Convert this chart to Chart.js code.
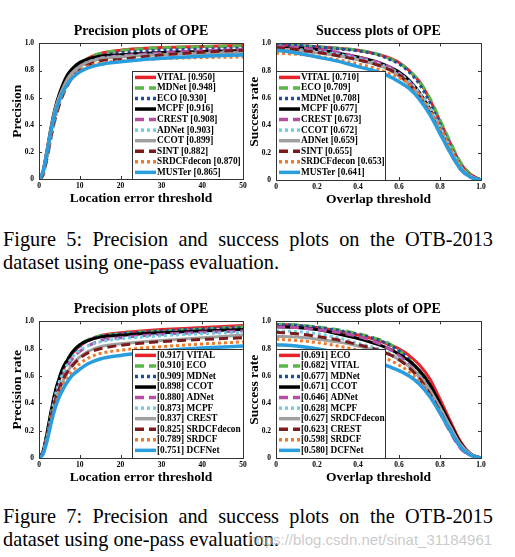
<!DOCTYPE html>
<html>
<head>
<meta charset="utf-8">
<script src="https://cdn.jsdelivr.net/npm/chart.js@4.4.0/dist/chart.umd.min.js"></script>
<style>
body { margin: 0; background: #fff; width: 515px; height: 557px; position: relative; overflow: hidden; }
.plot { position: absolute; }
.cap { position: absolute; left: 3px; width: 490px; font-family: "Liberation Serif", serif; font-size: 20.3px; line-height: 23px; color: #000; }
.cap .l1 { text-align: justify; text-align-last: justify; }
.mark { position: absolute; left: 248px; top: 531px; font-family: "Liberation Sans", sans-serif; font-size: 15px; color: rgba(185,185,185,0.75); white-space: nowrap; }
</style>
</head>
<body>
<div class="plot" style="left:0;top:0"><canvas id="prec13" width="257" height="207"></canvas></div>
<div class="plot" style="left:237px;top:0"><canvas id="succ13" width="258" height="208"></canvas></div>
<div class="cap" style="top:228px"><div class="l1">Figure 5: Precision and success plots on the OTB-2013</div><div>dataset using one-pass evaluation.</div></div>
<div class="plot" style="left:0;top:278px"><canvas id="prec15" width="257" height="208"></canvas></div>
<div class="plot" style="left:237px;top:278px"><canvas id="succ15" width="258" height="208"></canvas></div>
<div class="cap" style="top:505px"><div class="l1">Figure 7: Precision and success plots on the OTB-2015</div><div>dataset using one-pass evaluation.</div></div>
<div class="mark">https://blog.csdn.net/sinat_31184961</div>
<script>
// thresholds
const precX = [0, 1, 2, 3, 4, 5, 6, 7, 8, 10, 12, 15, 20, 25, 30, 40, 50];
const succX = [0, 0.1, 0.2, 0.3, 0.4, 0.5, 0.55, 0.6, 0.65, 0.7, 0.75, 0.8, 0.85, 0.9, 0.95, 1];

// OTB-2013 precision
const prec13Names = ['VITAL', 'MDNet', 'ECO', 'MCPF', 'CREST', 'ADNet', 'CCOT', 'SINT', 'SRDCFdecon', 'MUSTer'];
const prec13Scores = ['0.950', '0.948', '0.930', '0.916', '0.908', '0.903', '0.899', '0.882', '0.870', '0.865'];
const prec13Values = [
    [0, 0.05, 0.20, 0.36, 0.50, 0.60, 0.68, 0.74, 0.79, 0.85, 0.89, 0.925, 0.950, 0.962, 0.970, 0.978, 0.985],
    [0, 0.05, 0.20, 0.36, 0.50, 0.60, 0.68, 0.74, 0.79, 0.85, 0.89, 0.925, 0.948, 0.960, 0.968, 0.976, 0.982],
    [0, 0.05, 0.21, 0.37, 0.50, 0.60, 0.68, 0.74, 0.79, 0.84, 0.88, 0.910, 0.930, 0.942, 0.950, 0.958, 0.965],
    [0, 0.06, 0.22, 0.39, 0.53, 0.63, 0.71, 0.77, 0.81, 0.86, 0.885, 0.905, 0.916, 0.925, 0.932, 0.940, 0.948],
    [0, 0.04, 0.18, 0.34, 0.47, 0.57, 0.65, 0.71, 0.76, 0.82, 0.86, 0.890, 0.908, 0.920, 0.930, 0.945, 0.955],
    [0, 0.03, 0.15, 0.30, 0.44, 0.55, 0.63, 0.70, 0.75, 0.82, 0.86, 0.890, 0.903, 0.912, 0.920, 0.928, 0.935],
    [0, 0.06, 0.22, 0.38, 0.52, 0.61, 0.68, 0.74, 0.78, 0.83, 0.86, 0.885, 0.899, 0.910, 0.917, 0.925, 0.932],
    [0, 0.03, 0.16, 0.32, 0.45, 0.55, 0.63, 0.69, 0.74, 0.80, 0.84, 0.870, 0.882, 0.900, 0.915, 0.935, 0.950],
    [0, 0.04, 0.18, 0.34, 0.47, 0.57, 0.64, 0.70, 0.75, 0.80, 0.83, 0.855, 0.870, 0.880, 0.888, 0.895, 0.900],
    [0, 0.05, 0.20, 0.36, 0.49, 0.58, 0.65, 0.70, 0.74, 0.79, 0.82, 0.845, 0.865, 0.880, 0.890, 0.905, 0.915]
];

// OTB-2013 success
const succ13Names = ['VITAL', 'ECO', 'MDNet', 'MCPF', 'CREST', 'CCOT', 'ADNet', 'SINT', 'SRDCFdecon', 'MUSTer'];
const succ13Scores = ['0.710', '0.709', '0.708', '0.677', '0.673', '0.672', '0.659', '0.655', '0.653', '0.641'];
const succ13Values = [
    [0.99, 0.985, 0.975, 0.965, 0.95, 0.92, 0.895, 0.86, 0.80, 0.72, 0.59, 0.43, 0.27, 0.12, 0.04, 0],
    [0.99, 0.985, 0.975, 0.965, 0.95, 0.92, 0.89, 0.855, 0.80, 0.72, 0.60, 0.44, 0.28, 0.13, 0.04, 0],
    [0.99, 0.985, 0.975, 0.96, 0.945, 0.915, 0.885, 0.85, 0.79, 0.70, 0.57, 0.41, 0.25, 0.11, 0.03, 0],
    [0.97, 0.965, 0.955, 0.93, 0.90, 0.86, 0.83, 0.79, 0.73, 0.64, 0.52, 0.37, 0.22, 0.09, 0.03, 0],
    [0.98, 0.97, 0.955, 0.935, 0.90, 0.86, 0.83, 0.78, 0.72, 0.63, 0.51, 0.37, 0.22, 0.09, 0.03, 0],
    [0.96, 0.955, 0.94, 0.92, 0.89, 0.85, 0.82, 0.78, 0.72, 0.64, 0.53, 0.39, 0.24, 0.10, 0.03, 0],
    [0.96, 0.95, 0.93, 0.91, 0.88, 0.84, 0.81, 0.76, 0.70, 0.61, 0.49, 0.35, 0.21, 0.08, 0.02, 0],
    [0.97, 0.955, 0.935, 0.91, 0.88, 0.84, 0.81, 0.77, 0.70, 0.61, 0.49, 0.35, 0.20, 0.08, 0.02, 0],
    [0.93, 0.92, 0.905, 0.88, 0.85, 0.81, 0.78, 0.75, 0.70, 0.62, 0.51, 0.38, 0.23, 0.10, 0.03, 0],
    [0.95, 0.93, 0.90, 0.87, 0.83, 0.79, 0.76, 0.72, 0.67, 0.59, 0.48, 0.34, 0.20, 0.08, 0.02, 0]
];

// OTB-2015 precision
const prec15Names = ['VITAL', 'ECO', 'MDNet', 'CCOT', 'ADNet', 'MCPF', 'CREST', 'SRDCFdecon', 'SRDCF', 'DCFNet'];
const prec15Scores = ['0.917', '0.910', '0.909', '0.898', '0.880', '0.873', '0.837', '0.825', '0.789', '0.751'];
const prec15Values = [
    [0, 0.04, 0.17, 0.33, 0.47, 0.57, 0.65, 0.71, 0.76, 0.82, 0.86, 0.895, 0.917, 0.930, 0.940, 0.955, 0.970],
    [0, 0.05, 0.19, 0.35, 0.49, 0.59, 0.67, 0.72, 0.77, 0.83, 0.865, 0.895, 0.910, 0.922, 0.930, 0.945, 0.960],
    [0, 0.04, 0.17, 0.33, 0.47, 0.57, 0.65, 0.71, 0.76, 0.82, 0.86, 0.890, 0.909, 0.920, 0.930, 0.945, 0.955],
    [0, 0.05, 0.19, 0.35, 0.49, 0.59, 0.67, 0.72, 0.77, 0.83, 0.86, 0.885, 0.898, 0.910, 0.917, 0.930, 0.940],
    [0, 0.04, 0.16, 0.31, 0.44, 0.54, 0.61, 0.67, 0.72, 0.78, 0.82, 0.860, 0.880, 0.895, 0.905, 0.920, 0.930],
    [0, 0.04, 0.17, 0.32, 0.46, 0.56, 0.63, 0.69, 0.73, 0.79, 0.82, 0.850, 0.873, 0.885, 0.895, 0.910, 0.920],
    [0, 0.03, 0.13, 0.27, 0.40, 0.50, 0.57, 0.63, 0.68, 0.74, 0.78, 0.815, 0.837, 0.850, 0.860, 0.880, 0.900],
    [0, 0.04, 0.16, 0.30, 0.42, 0.51, 0.58, 0.63, 0.67, 0.73, 0.77, 0.800, 0.825, 0.840, 0.852, 0.868, 0.880],
    [0, 0.04, 0.15, 0.28, 0.39, 0.48, 0.54, 0.59, 0.63, 0.69, 0.73, 0.765, 0.789, 0.805, 0.815, 0.835, 0.850],
    [0, 0.03, 0.13, 0.26, 0.37, 0.45, 0.51, 0.56, 0.60, 0.65, 0.69, 0.725, 0.751, 0.770, 0.785, 0.805, 0.820]
];

// OTB-2015 success
const succ15Names = ['ECO', 'VITAL', 'MDNet', 'CCOT', 'ADNet', 'MCPF', 'SRDCFdecon', 'CREST', 'SRDCF', 'DCFNet'];
const succ15Scores = ['0.691', '0.682', '0.677', '0.671', '0.646', '0.628', '0.627', '0.623', '0.598', '0.580'];
const succ15Values = [
    [0.98, 0.97, 0.955, 0.93, 0.90, 0.86, 0.83, 0.80, 0.75, 0.68, 0.58, 0.43, 0.27, 0.12, 0.03, 0],
    [0.98, 0.975, 0.96, 0.94, 0.91, 0.87, 0.84, 0.79, 0.72, 0.63, 0.51, 0.37, 0.22, 0.09, 0.02, 0],
    [0.975, 0.97, 0.955, 0.935, 0.905, 0.865, 0.83, 0.785, 0.72, 0.63, 0.51, 0.37, 0.22, 0.09, 0.02, 0],
    [0.96, 0.955, 0.94, 0.91, 0.875, 0.83, 0.80, 0.76, 0.71, 0.64, 0.54, 0.40, 0.25, 0.11, 0.03, 0],
    [0.96, 0.955, 0.94, 0.92, 0.89, 0.84, 0.80, 0.75, 0.68, 0.59, 0.47, 0.33, 0.19, 0.07, 0.02, 0],
    [0.93, 0.925, 0.91, 0.88, 0.84, 0.80, 0.77, 0.73, 0.67, 0.59, 0.48, 0.34, 0.20, 0.08, 0.02, 0],
    [0.89, 0.885, 0.87, 0.85, 0.82, 0.78, 0.76, 0.72, 0.67, 0.60, 0.50, 0.37, 0.23, 0.10, 0.03, 0],
    [0.92, 0.91, 0.89, 0.865, 0.83, 0.79, 0.76, 0.72, 0.66, 0.58, 0.47, 0.34, 0.20, 0.08, 0.02, 0],
    [0.87, 0.86, 0.845, 0.82, 0.79, 0.75, 0.72, 0.68, 0.63, 0.56, 0.46, 0.33, 0.20, 0.08, 0.02, 0],
    [0.83, 0.82, 0.80, 0.77, 0.74, 0.70, 0.67, 0.64, 0.60, 0.54, 0.45, 0.33, 0.20, 0.08, 0.02, 0]
];

// style per rank
const rankColors = ['#e8232b', '#5cb547', '#1f4e9c', '#000000', '#b44fa5', '#74cbe0', '#a0a0a0', '#7c1b1b', '#f07a2a', '#2a9ddf'];
const rankDash = [[], [9, 5], [3, 3], [], [9, 5], [3, 3], [], [9, 5], [3, 3], []];

const SERIF = '"Liberation Serif", "Times New Roman", serif';
Chart.defaults.color = '#000';

// box round the plot and little inner tick marks
const framePlugin = {
    id: 'frame',
    afterDatasetsDraw(chart) {
        const { ctx, chartArea: a } = chart;
        const sx = chart.scales.x, sy = chart.scales.y;
        ctx.save();
        ctx.strokeStyle = '#333';
        ctx.lineWidth = 1;
        ctx.strokeRect(Math.round(a.left) + 0.5, Math.round(a.top) + 0.5, Math.round(a.right - a.left), Math.round(a.bottom - a.top));
        ctx.beginPath();
        sx.ticks.forEach(t => {
            const px = Math.round(sx.getPixelForValue(t.value)) + 0.5;
            ctx.moveTo(px, a.bottom); ctx.lineTo(px, a.bottom - 3);
            ctx.moveTo(px, a.top); ctx.lineTo(px, a.top + 3);
        });
        sy.ticks.forEach(t => {
            const py = Math.round(sy.getPixelForValue(t.value)) + 0.5;
            ctx.moveTo(a.left, py); ctx.lineTo(a.left + 3, py);
            ctx.moveTo(a.right, py); ctx.lineTo(a.right - 3, py);
        });
        ctx.stroke();
        ctx.restore();
    }
};

// legend box inside the plot, like matlab
const boxLegendPlugin = {
    id: 'boxLegend',
    afterDraw(chart, args, o) {
        const { ctx, chartArea: a } = chart;
        const x0 = o.side === 'right' ? a.right - o.width : a.left;
        const y0 = a.top + o.top;
        ctx.save();
        ctx.fillStyle = '#fff';
        ctx.fillRect(x0, y0, o.width, a.bottom - y0);
        ctx.strokeStyle = '#333';
        ctx.lineWidth = 1;
        ctx.strokeRect(Math.round(x0) + 0.5, Math.round(y0) + 0.5, o.width, Math.round(a.bottom - y0));
        ctx.font = 'bold 9.3px ' + SERIF;
        ctx.textBaseline = 'middle';
        chart.data.datasets.forEach((ds, i) => {
            const y = y0 + 6 + i * o.row;
            ctx.strokeStyle = ds.borderColor;
            ctx.lineWidth = 3.5;
            ctx.setLineDash(ds.borderDash);
            ctx.beginPath();
            ctx.moveTo(x0 + 3, y);
            ctx.lineTo(x0 + 24, y);
            ctx.stroke();
            ctx.setLineDash([]);
            ctx.fillStyle = '#000';
            ctx.fillText(ds.label, x0 + 25, y);
        });
        ctx.restore();
    }
};

const makeChart = (id, xs, values, names, scores, opts) => {
    const datasets = values.map((vals, i) => ({
        label: opts.scoreFirst ? `[${scores[i]}] ${names[i]}` : `${names[i]} [${scores[i]}]`,
        data: vals.map((v, k) => ({ x: xs[k], y: v })),
        borderColor: rankColors[i],
        borderDash: rankDash[i],
        borderWidth: i === 9 ? 3.5 : 3,
        pointRadius: 0,
        cubicInterpolationMode: 'monotone',
        order: 10 - i
    }));

    return new Chart(document.getElementById(id), {
        type: 'line',
        data: { datasets },
        plugins: [framePlugin, boxLegendPlugin],
        options: {
            responsive: false,
            animation: false,
            layout: { padding: { left: 0, right: 14, top: 0, bottom: 0 } },
            scales: {
                x: {
                    type: 'linear', min: 0, max: opts.xMax,
                    grid: { display: false, drawTicks: false }, border: { display: false },
                    ticks: { stepSize: opts.xStep, padding: 3, font: { family: SERIF, size: 7.5, weight: 'bold' }, maxRotation: 0 },
                    title: { display: true, text: opts.xTitle, padding: { top: 0, bottom: 0 }, font: { family: SERIF, size: 13.5, weight: 'bold' } },
                    afterFit: (s) => { s.height = 28; }
                },
                y: {
                    type: 'linear', min: 0, max: 1,
                    grid: { display: false, drawTicks: false }, border: { display: false },
                    ticks: { stepSize: 0.2, padding: 5, font: { family: SERIF, size: 7.5, weight: 'bold' } },
                    title: { display: true, text: opts.yTitle, padding: { top: 9, bottom: 0 }, font: { family: SERIF, size: 13.5, weight: 'bold' } },
                    afterFit: (s) => { s.width = 39; }
                }
            },
            plugins: {
                legend: { display: false },
                tooltip: { enabled: false },
                title: {
                    display: true, text: opts.title, fullSize: false,
                    padding: { top: 23, bottom: 3.6 },
                    font: { family: SERIF, size: 14, weight: 'bold', lineHeight: 1.2 }
                },
                boxLegend: { side: opts.legendSide, width: opts.legendWidth, top: 28, row: 10.55 }
            }
        }
    });
};

makeChart('prec13', precX, prec13Values, prec13Names, prec13Scores, {
    title: 'Precision plots of OPE', xTitle: 'Location error threshold', yTitle: 'Precision',
    xMax: 50, xStep: 10, legendSide: 'right', legendWidth: 111, scoreFirst: false
});
makeChart('succ13', succX, succ13Values, succ13Names, succ13Scores, {
    title: 'Success plots of OPE', xTitle: 'Overlap threshold', yTitle: 'Success rate',
    xMax: 1, xStep: 0.2, legendSide: 'left', legendWidth: 109, scoreFirst: false
});
makeChart('prec15', precX, prec15Values, prec15Names, prec15Scores, {
    title: 'Precision plots of OPE', xTitle: 'Location error threshold', yTitle: 'Precision rate',
    xMax: 50, xStep: 10, legendSide: 'right', legendWidth: 111, scoreFirst: true
});
makeChart('succ15', succX, succ15Values, succ15Names, succ15Scores, {
    title: 'Success plots of OPE', xTitle: 'Overlap threshold', yTitle: 'Success rate',
    xMax: 1, xStep: 0.2, legendSide: 'left', legendWidth: 109, scoreFirst: true
});
</script>
</body>
</html>
